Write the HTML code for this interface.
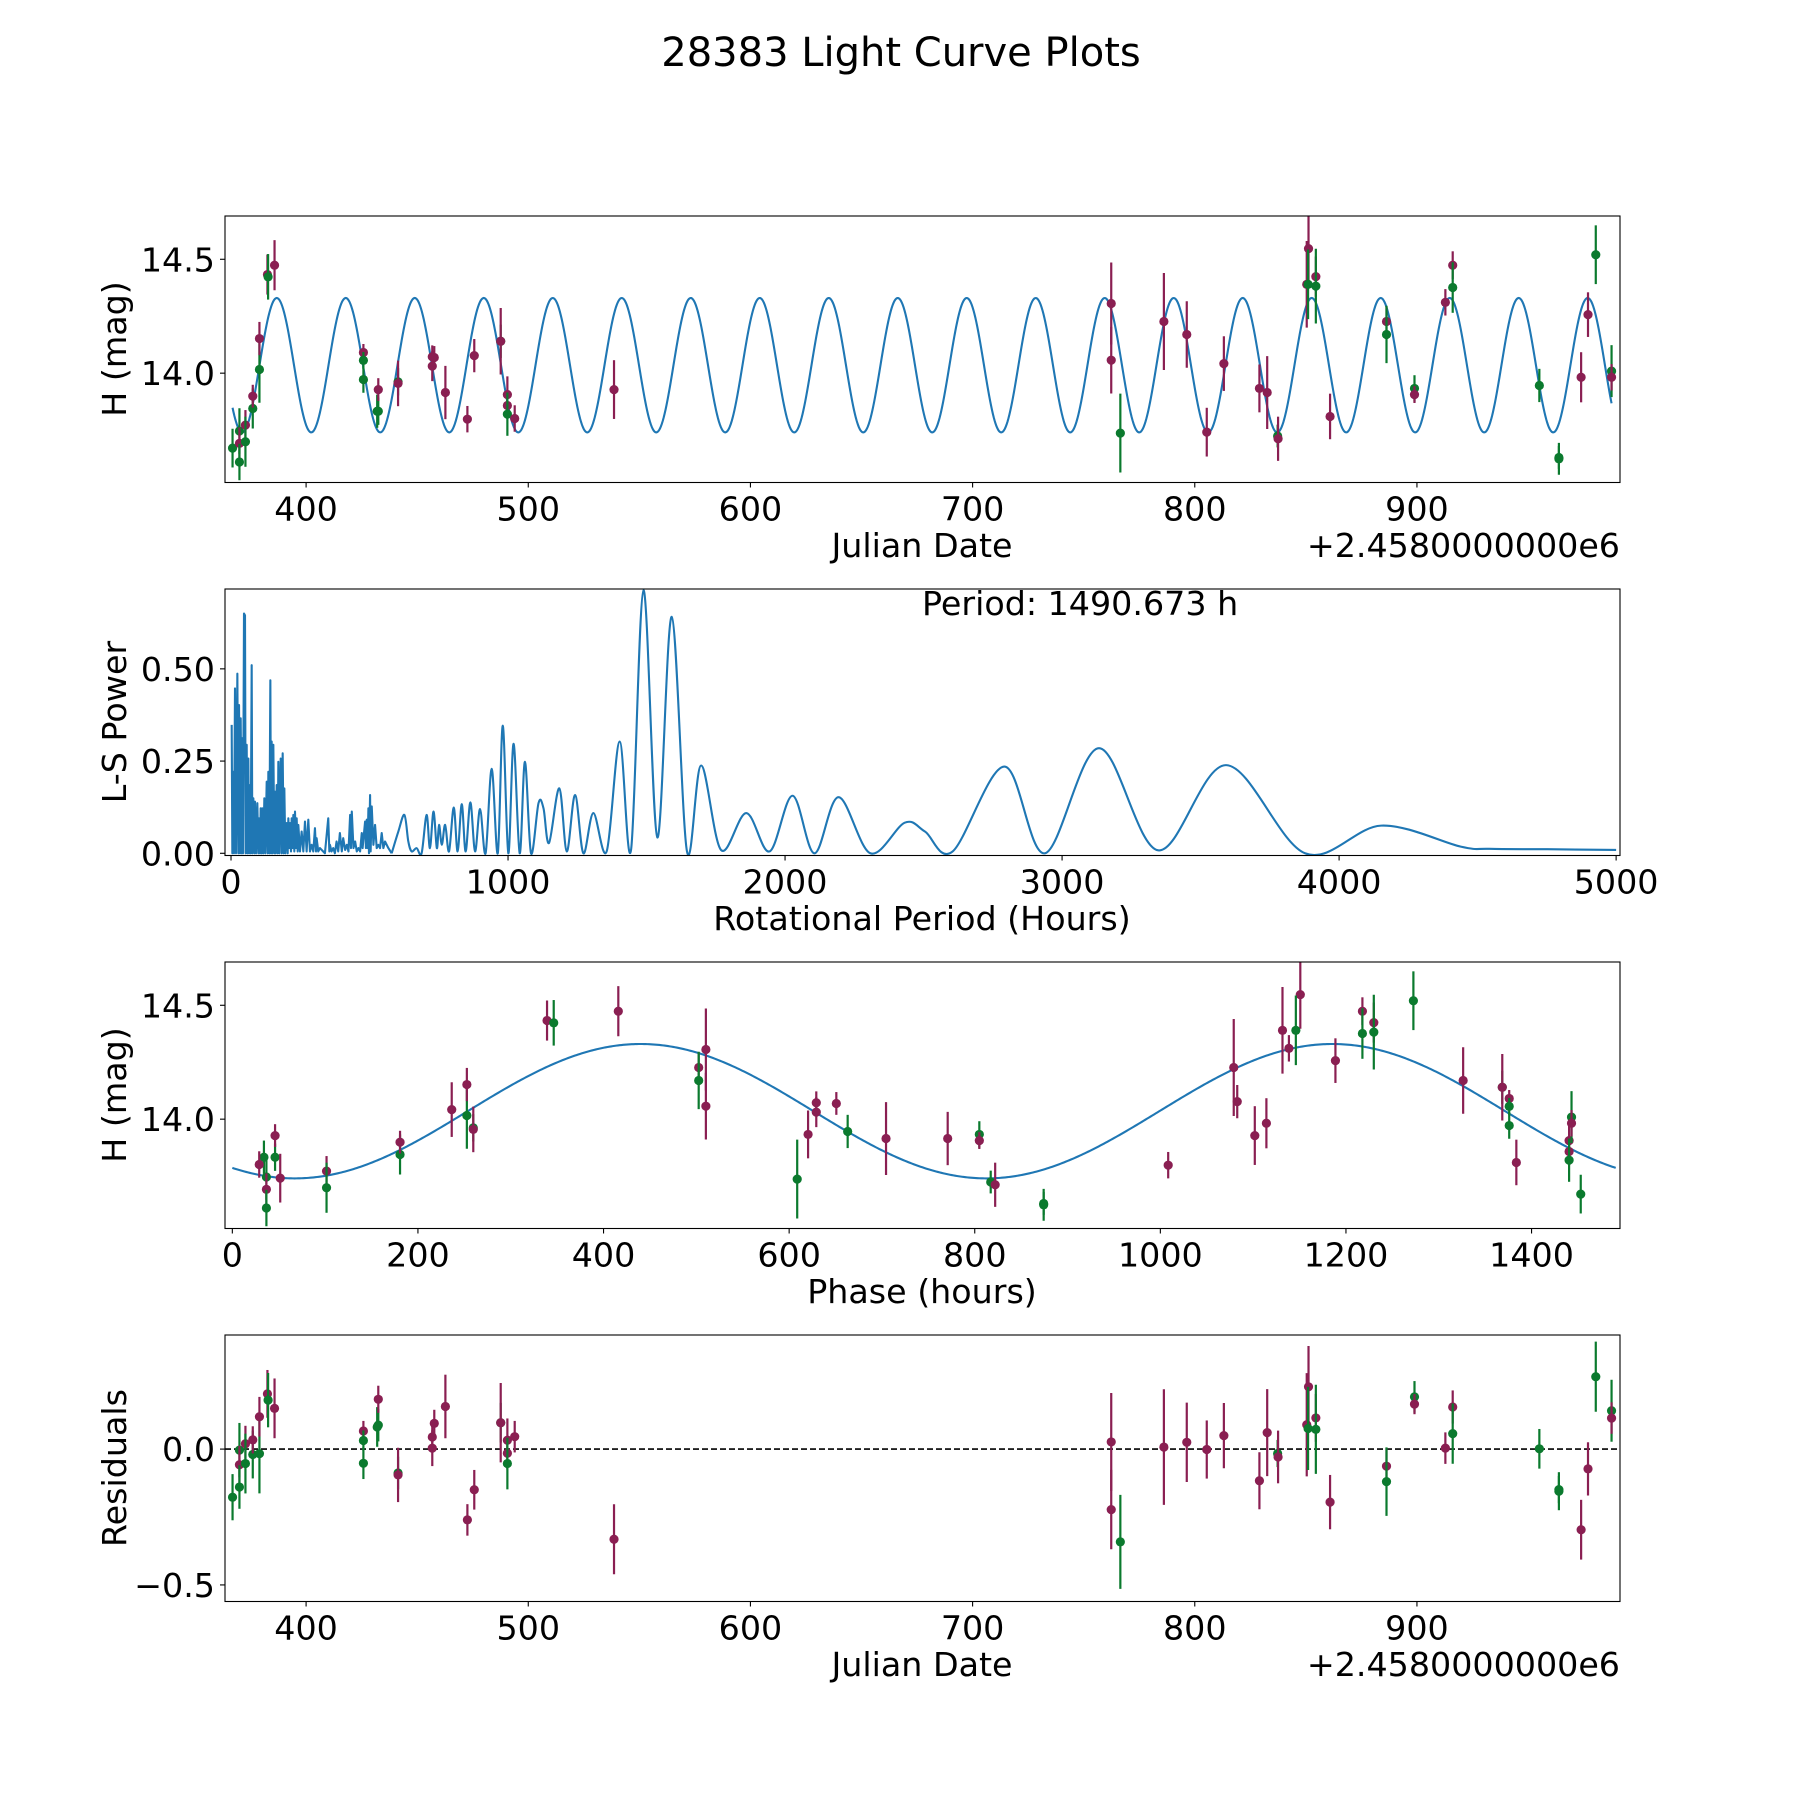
<!DOCTYPE html>
<html><head><meta charset="utf-8"><title>28383 Light Curve Plots</title>
<style>
html,body{margin:0;padding:0;background:#fff;}
svg{display:block;font-family:"DejaVu Sans","Liberation Sans",sans-serif;}
</style></head>
<body>
<svg id="fig" width="1800" height="1800" viewBox="0 0 1800 1800" xmlns="http://www.w3.org/2000/svg">
<rect width="1800" height="1800" fill="#fff"/>
<text x="901" y="66" font-size="40" text-anchor="middle">28383 Light Curve Plots</text>
</svg>
<script>
// ---- observation data ----
const obsJD = [366.9,370.0,370.0,370.0,372.7,372.7,376.0,376.0,379.0,379.0,382.6,382.9,385.8,425.8,425.8,425.8,432.0,432.5,432.5,441.4,441.4,456.8,457.7,456.8,462.7,472.6,475.7,487.6,487.6,490.6,490.6,490.6,493.9,538.6,
762.4,762.4,766.5,786.1,796.4,805.4,813.1,829.1,832.6,837.3,837.5,850.4,851.2,851.0,854.5,854.5,860.9,886.3,886.3,898.9,898.9,912.8,916.1,916.1,955.1,963.9,963.9,973.9,977.0,980.5,987.6,987.6];
const obsMag = [13.671,13.746,13.692,13.610,13.772,13.699,13.845,13.899,14.016,14.152,14.433,14.423,14.474,14.091,14.056,13.972,13.833,13.833,13.928,13.962,13.955,14.072,14.069,14.031,13.915,13.798,14.077,14.140,14.140,13.906,13.858,13.820,13.801,13.928,
14.306,14.057,13.737,14.227,14.170,13.741,14.042,13.933,13.915,13.724,13.712,14.390,14.547,14.390,14.424,14.382,13.810,14.227,14.170,13.933,13.906,14.311,14.474,14.376,13.946,13.624,13.630,13.982,14.257,14.520,14.009,13.982];
const obsErr = [0.085,0.10,0.07,0.08,0.066,0.11,0.088,0.05,0.146,0.073,0.088,0.10,0.11,0.037,0.037,0.058,0.073,0.06,0.05,0.06,0.10,0.05,0.05,0.066,0.117,0.058,0.073,0.073,0.146,0.08,0.06,0.095,0.058,0.129,
0.18,0.146,0.173,0.213,0.146,0.107,0.12,0.105,0.16,0.05,0.097,0.19,0.15,0.153,0.088,0.164,0.10,0.066,0.126,0.058,0.037,0.058,0.061,0.111,0.073,0.07,0.05,0.11,0.098,0.129,0.114,0.058];
const obsBand = ['g','g','m','g','m','g','g','m','g','m','m','g','m','m','g','g','g','g','m','g','m','m','m','m','m','m','m','g','m','m','m','g','m','m',
'm','m','g','m','m','m','m','m','m','g','m','m','m','g','m','g','m','m','g','g','m','m','m','g','g','g','g','m','m','g','g','m'];
// ---- fitted model (period hours, mean, amplitude, epoch JD of peak, phase zero JD) ----
const modelPeriodH = [1490.673];
const modelMean = [14.035];
const modelAmp = [0.295];
const modelPeakJD = [386.8];
const phaseZeroJD = [368.47];
// ---- periodogram ----
const pgSpikyPeriod = [2.4,4.8,8.4,10.8,14.4,18,22.9,26.5,28.9,32.5,34.9,38.5,40.9,43.3,46.9,50.5,52.9,56.6,59,62.6,65,68.6,71,74.6,77,80.6,84.2,86.6,90.3,95,98.7,101,104.7,107.1,110.7,113.1,116.7,120.3,124,128.8,132.4,134.8,138.4,142,144.4,146.8,149.2,152.8,156.4,158.8,161.3,164.9,168.5,170.9,174.5,179.3,182.9,186.5,190.1,192.5,196.1,201,204.6,207,210.6,213,216.6,219,222.6,225,228.6,231,234.7,237,240.7,243,249,255,261,267,273,279,285,291,297,303,306.9,309,315,321,339,351,355,357,363,369,375,381,387,393,400,405,412,418,424,430,433,436,442,448,454,460,466,472,475,484,487,490,493,496,498,502,504,508,514,520,526,532,538,544,550,556,568,580];
const pgSpikyPower = [0.348,0,0.221,0,0.447,0,0.487,0,0.402,0,0.366,0,0.312,0,0.650,0.645,0,0.294,0,0.257,0,0.185,0,0.510,0,0.149,0,0.140,0,0.136,0,0.095,0,0.122,0,0.122,0,0.149,0,0.194,0,0.221,0,0.469,0,0.303,0,0.294,0,0.167,0,0.185,0,0.248,0,0.257,0,0.271,0,0.176,0,0.082,0,0.095,0.014,0.082,0.005,0.095,0.014,0.104,0.005,0.113,0.014,0.095,0.005,0.077,0.005,0.059,0.005,0.086,0.005,0.091,0.005,0.023,0.005,0.068,0.005,0.041,0.005,0.014,0,0.095,0.005,0.023,0.005,0.014,0,0.032,0.005,0.055,0.005,0.041,0.009,0.023,0.005,0.104,0.014,0.113,0.014,0.032,0.005,0.014,0.005,0.055,0.014,0.086,0.014,0.091,0.014,0.122,0,0.158,0.005,0.127,0.023,0.077,0.014,0.023,0.014,0.055,0.014,0.032,0.014,0];
const pgSmoothPeriod = [580,604,626,640,652,670,688,706,718,731,743,751,761,773,787,804,818,833,847,864,881,899,919,941,963,981,1001,1020,1042,1061,1083,1110,1128,1148,1185,1212,1242,1272,1308,1356,1403,1444,1489,1539,1591,1646,1697,1769,1860,1944,2027,2106,2193,2308,2432,2505,2605,2792,2938,3133,3347,3592,3877,4152,4439,4543,4751,5000];
const pgSmoothPower = [0,0.059,0.104,0.032,0.005,0.014,0.0,0.104,0.014,0.113,0.014,0.077,0.023,0.077,0.005,0.124,0.005,0.133,0.005,0.138,0.005,0.120,0.0,0.229,0.0,0.346,0.0,0.297,0.0,0.248,0.0,0.136,0.122,0.028,0.176,0.005,0.158,0.0,0.109,0.005,0.303,0.009,0.713,0.043,0.641,0.005,0.238,0.009,0.109,0.005,0.156,0.0,0.152,0.0,0.083,0.059,0.005,0.235,0.0,0.285,0.008,0.239,0.0,0.075,0.018,0.012,0.011,0.009];
// ---- tick labels ----
const jdTicks = [400,500,600,700,800,900];
const magTicks = [14.0,14.5];
const pgXTicks = [0,1000,2000,3000,4000,5000];
const pgYTicks = [0,0.25,0.5];
const pgYLabels = ['0.00','0.25','0.50'];
const phaseTicks = [0,200,400,600,800,1000,1200,1400];
const resTicks = [-0.5,0.0];
const resLabels = ['\u22120.5','0.0'];

const NS='http://www.w3.org/2000/svg';
const fig=document.getElementById('fig');
const BLUE='#1f77b4', MAG='#8a1f52', GRN='#0b7a2e';
const COL={m:MAG,g:GRN};
const FS=33.3;
function mk(tag,attrs,parent){const e=document.createElementNS(NS,tag);for(const k in attrs)e.setAttribute(k,attrs[k]);(parent||fig).appendChild(e);return e;}
function model(jd){return modelMean[0]+modelAmp[0]*Math.cos(2*Math.PI*(jd-modelPeakJD[0])/(modelPeriodH[0]/48));}
function phaseOf(jd){let p=((jd-phaseZeroJD[0])*24)%modelPeriodH[0];if(p<0)p+=modelPeriodH[0];return p;}

const L=225,R=1620,H=266.5;
function makeAxes(name,top,xd,yd){
  const g=mk('g',{});
  
  
  const cp=mk('clipPath',{id:'clip-'+name},g);
  mk('rect',{x:L,y:top,width:R-L,height:H},cp);
  const plot=mk('g',{'clip-path':'url(#clip-'+name+')'},g);
  return {g,plot,top,
    x:v=>L+(v-xd[0])/(xd[1]-xd[0])*(R-L),
    y:v=>top+H-(v-yd[0])/(yd[1]-yd[0])*H};
}
function frame(ax){
  const r=mk('rect',{x:L,y:ax.top,width:R-L,height:H,fill:'none',stroke:'#000','stroke-width':1.1},ax.g);
  
  
}
function xTicks(ax,vals,labels,nm){
  vals.forEach((v,i)=>{const X=ax.x(v);
    mk('line',{x1:X,x2:X,y1:ax.top+H,y2:ax.top+H+5,stroke:'#000','stroke-width':1.1},ax.g);
    const t=mk('text',{x:X,y:ax.top+H+38,'font-size':FS,'text-anchor':'middle'},ax.g);
    t.textContent=labels?labels[i]:String(v);
    
    
  });
}
function yTicks(ax,vals,labels,nm){
  vals.forEach((v,i)=>{const Y=ax.y(v);
    mk('line',{x1:L-5,x2:L,y1:Y,y2:Y,stroke:'#000','stroke-width':1.1},ax.g);
    const t=mk('text',{x:L-10,y:Y+12,'font-size':FS,'text-anchor':'end'},ax.g);
    t.textContent=labels?labels[i]:v.toFixed(1);
    
    
  });
}
function label(ax,txt,x,y,rot,nm,anchor){
  const t=mk('text',{x:x,y:y,'font-size':FS,'text-anchor':anchor||'middle'},ax.g);
  if(rot)t.setAttribute('transform','rotate(-90 '+x+' '+y+')');
  t.textContent=txt;
  
  
}
function errPoints(ax,xs,ys,es,nm){
  for(let i=0;i<xs.length;i++){
    const X=ax.x(xs[i]),Y=ax.y(ys[i]),c=COL[obsBand[i]];
    const ln=mk('line',{x1:X,x2:X,y1:ax.y(ys[i]+es[i]),y2:ax.y(ys[i]-es[i]),stroke:c,'stroke-width':2.2},ax.plot);
    
    
    const d=mk('circle',{cx:X,cy:Y,r:4.6,fill:c},ax.plot);
    
    
  }
}

// Panel 1: light curve vs JD
const a1=makeAxes('lightcurve-axes',216,[363.5,991.4],[13.52,14.69]);
{let d='';const j0=obsJD[0],j1=obsJD[obsJD.length-1];
 for(let k=0;k<=1500;k++){const j=j0+(j1-j0)*k/1500;d+=(k?'L':'M')+a1.x(j).toFixed(2)+' '+a1.y(model(j)).toFixed(2);}
 const p=mk('path',{d:d,fill:'none',stroke:BLUE,'stroke-width':2.1},a1.plot);
 
 }
errPoints(a1,obsJD,obsMag,obsErr,'observation');
frame(a1);xTicks(a1,jdTicks,null,'x');yTicks(a1,magTicks,null,'y');
label(a1,'Julian Date',922,557,false,'x-axis-title');
label(a1,'+2.4580000000e6',1620,557,false,'x-offset-text','end');
label(a1,'H (mag)',126,349,true,'y-axis-title');

// Panel 2: periodogram
const a2=makeAxes('periodogram-axes',589,[-21.7,5014],[-0.006,0.7165]);
{let d='';pgSpikyPeriod.forEach((p,i)=>{d+=(i?'L':'M')+a2.x(p).toFixed(2)+' '+a2.y(pgSpikyPower[i]).toFixed(2);});
 const sp=mk('path',{d:d,fill:'none',stroke:BLUE,'stroke-width':2.1,'stroke-linejoin':'round'},a2.plot);
 
 
 const P=pgSmoothPeriod.map((p,i)=>[a2.x(p),a2.y(pgSmoothPower[i])]);
 let s='M'+P[0][0]+' '+P[0][1];
 for(let i=0;i<P.length-1;i++){const p0=P[Math.max(0,i-1)],p1=P[i],p2=P[i+1],p3=P[Math.min(P.length-1,i+2)];
   const c1=[p1[0]+(p2[0]-p0[0])/6,p1[1]+(p2[1]-p0[1])/6],c2=[p2[0]-(p3[0]-p1[0])/6,p2[1]-(p3[1]-p1[1])/6];
   s+='C'+c1[0].toFixed(2)+' '+c1[1].toFixed(2)+' '+c2[0].toFixed(2)+' '+c2[1].toFixed(2)+' '+p2[0].toFixed(2)+' '+p2[1].toFixed(2);}
 const sm=mk('path',{d:s,fill:'none',stroke:BLUE,'stroke-width':2.1},a2.plot);
 
 }
frame(a2);xTicks(a2,pgXTicks,null,'x');yTicks(a2,pgYTicks,pgYLabels,'y');
label(a2,'Rotational Period (Hours)',922,930,false,'x-axis-title');
label(a2,'L-S Power',126,722,true,'y-axis-title');
label(a2,'Period: '+modelPeriodH[0].toFixed(3)+' h',922,615,false,'period-annotation','start');

// Panel 3: phased
const a3=makeAxes('phase-axes',962,[-7.9,1495.3],[13.52,14.69]);
{let d='';for(let k=0;k<=800;k++){const ph=modelPeriodH[0]*k/800;const j=phaseZeroJD[0]+ph/24;
  d+=(k?'L':'M')+a3.x(ph).toFixed(2)+' '+a3.y(model(j)).toFixed(2);}
 const p=mk('path',{d:d,fill:'none',stroke:BLUE,'stroke-width':2.1},a3.plot);
 
 }
errPoints(a3,obsJD.map(phaseOf),obsMag,obsErr,'phased-observation');
frame(a3);xTicks(a3,phaseTicks,null,'x');yTicks(a3,magTicks,null,'y');
label(a3,'Phase (hours)',922,1303,false,'x-axis-title');
label(a3,'H (mag)',126,1095,true,'y-axis-title');

// Panel 4: residuals
const a4=makeAxes('residuals-axes',1335,[363.5,991.4],[-0.561,0.42]);
{const z=mk('line',{x1:L,x2:R,y1:a4.y(0),y2:a4.y(0),stroke:'#000','stroke-width':1.6,'stroke-dasharray':'6,3'},a4.plot);
 
 }
errPoints(a4,obsJD,obsMag.map((m,i)=>m-model(obsJD[i])),obsErr,'residual');
frame(a4);xTicks(a4,jdTicks,null,'x');yTicks(a4,resTicks,resLabels,'y');
label(a4,'Julian Date',922,1676,false,'x-axis-title');
label(a4,'+2.4580000000e6',1620,1676,false,'x-offset-text','end');
label(a4,'Residuals',126,1468,true,'y-axis-title');
</script>
</body></html>
